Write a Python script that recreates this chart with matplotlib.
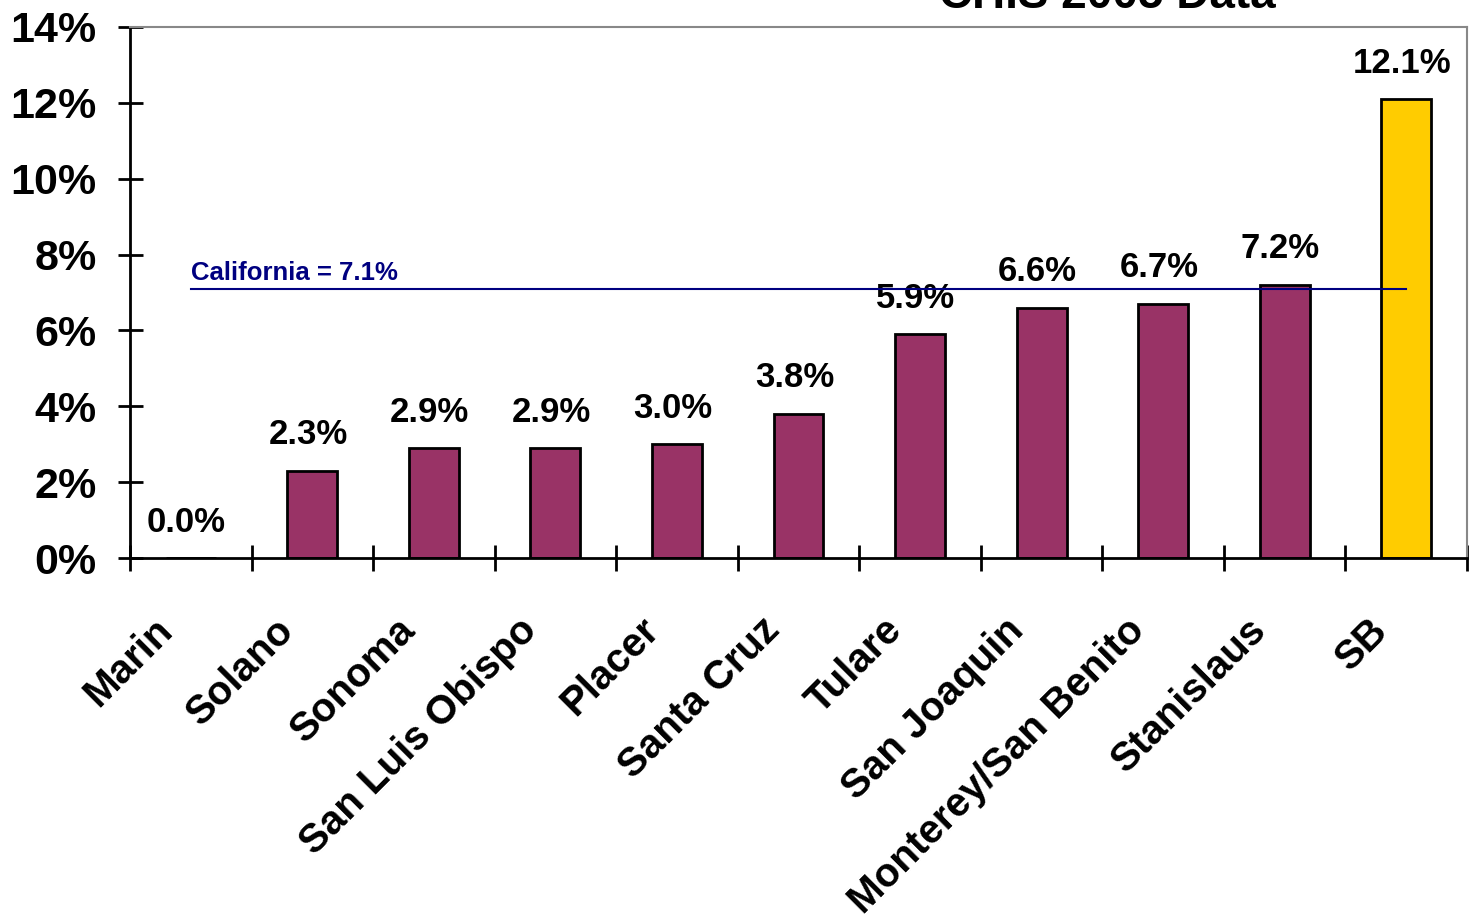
import matplotlib
matplotlib.use("Agg")
import matplotlib.pyplot as plt
import matplotlib.transforms as mtransforms
import numpy as np

counties = ["Marin", "Solano", "Sonoma", "San Luis Obispo", "Placer", "Santa Cruz",
            "Tulare", "San Joaquin", "Monterey/San Benito", "Stanislaus", "SB"]
values = [0.0, 2.3, 2.9, 2.9, 3.0, 3.8, 5.9, 6.6, 6.7, 7.2, 12.1]
california = 7.1
yticks = [0, 2, 4, 6, 8, 10, 12, 14]

plt.rcParams['font.family'] = ['Liberation Sans', 'DejaVu Sans']
plt.rcParams['font.weight'] = 'bold'

fig = plt.figure(figsize=(14.7, 9.22), dpi=100)
ax = fig.add_axes([130/1470, 1-558/922, (1467-130)/1470, (558-27)/922])

x = np.arange(len(counties))
colors = ["#993366"] * (len(counties) - 1) + ["#FFCC00"]
ax.bar(x, values, width=0.41, color=colors, edgecolor="black", linewidth=2, zorder=2)

for xi, v in zip(x, values):
    ax.annotate("%.1f%%" % v, (xi, v), xytext=(-3, 14), textcoords="offset points",
                ha="center", va="bottom", fontsize=25, fontweight="bold")

ax.plot([0, len(counties) - 1], [california, california], color="#000080", lw=1.5, zorder=3)
ax.annotate("California = %.1f%%" % california, (0, california), xytext=(0, 3),
            textcoords="offset points", ha="left", va="bottom", fontsize=18.5,
            fontweight="bold", color="#000080")

ax.set_xlim(-0.5, len(counties) - 0.5)
ax.set_ylim(0, 14)
ax.set_yticks(yticks)
ax.set_yticklabels(["%d%%" % t for t in yticks], fontsize=31, fontweight="bold")
ax.tick_params(axis="y", direction="inout", length=18, width=2, pad=15)

ax.set_xticks(x)
ax.set_xticklabels(counties, rotation=45, ha="right", va="top", fontsize=29, fontweight="bold")
ax.set_xticks(np.arange(len(counties) + 1) - 0.5, minor=True)
ax.tick_params(axis="x", which="major", length=0, pad=38)
ax.tick_params(axis="x", which="minor", direction="inout", length=18.5, width=2)
shift = mtransforms.ScaledTranslation(-11/100, 0, fig.dpi_scale_trans)
for lab in ax.get_xticklabels():
    lab.set_transform(lab.get_transform() + shift)

for s in ["left", "bottom"]:
    ax.spines[s].set_linewidth(2)
    ax.spines[s].set_color("black")
for s in ["top", "right"]:
    ax.spines[s].set_linewidth(1.5)
    ax.spines[s].set_color("#888888")

fig.text(1107/1470, 1 - 8/922, "CHIS 2005 Data", ha="center", va="baseline",
         fontsize=33, fontweight="bold")

fig.savefig("out.png", dpi=100)
